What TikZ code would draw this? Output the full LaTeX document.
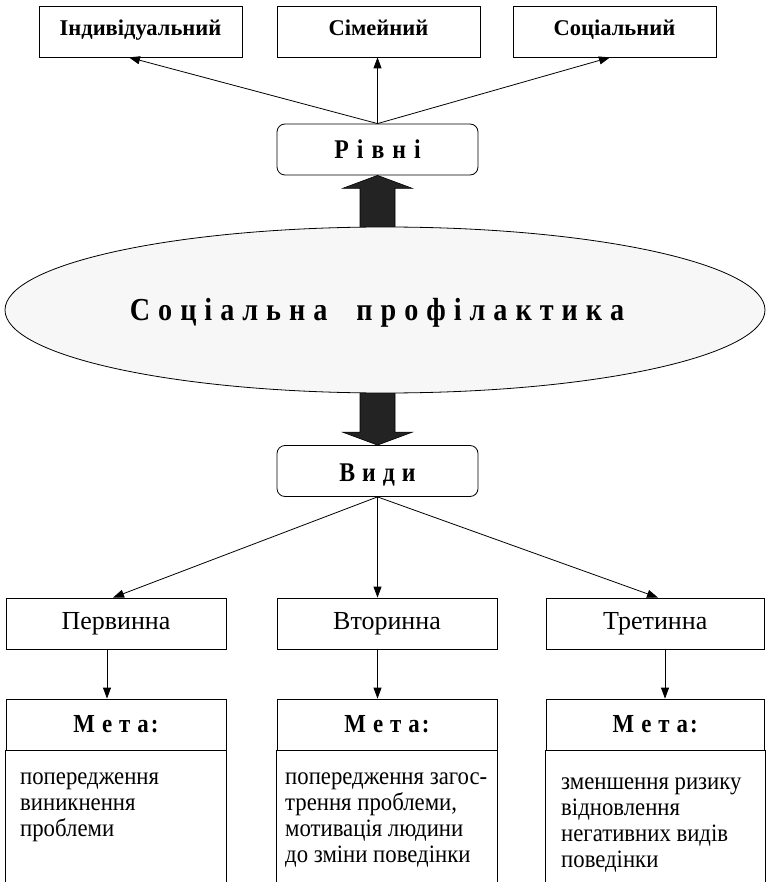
\documentclass[tikz,border=0pt]{standalone}
\usepackage{fontspec}
\setmainfont{Liberation Serif}
\newfontfamily\condA[FakeStretch=0.88]{Liberation Serif}
\newfontfamily\condB[FakeStretch=0.91]{Liberation Serif}
\usetikzlibrary{shapes.geometric,arrows.meta,calc}
\definecolor{ellfill}{HTML}{F7F7F7}
\definecolor{arrfill}{HTML}{232323}
\newlength\gapw
\newcommand{\gapx}{\hspace{\gapw}}
\begin{document}
\begin{tikzpicture}[x=1pt,y=-1pt,
  topbox/.style={draw, line width=0.8pt, minimum width=203pt, minimum height=51pt, inner sep=0pt,
    text height=15pt, text depth=6pt, font=\bfseries\fontsize{22.5}{26}\selectfont},
  rbox/.style={draw, line width=0.8pt, rounded corners=8pt, minimum width=201pt, minimum height=51pt, inner sep=0pt,
    text depth=0pt, font=\condA\bfseries\fontsize{27}{30}\selectfont\setlength\gapw{8pt}},
  midbox/.style={draw, line width=0.8pt, minimum width=220pt, minimum height=51pt, inner sep=0pt,
    font=\fontsize{26}{30}\selectfont},
  goalbox/.style={draw, line width=0.8pt, minimum width=220pt, minimum height=51pt, inner sep=0pt,
    text height=15pt, text depth=0pt, font=\condA\bfseries\fontsize{26}{28}\selectfont\setlength\gapw{7pt}},
  bodytext/.style={anchor=north west, inner sep=0pt, align=left,
    font=\condB\fontsize{25}{26}\selectfont},
  side/.style={line width=0.8pt},
  arr/.style={-{Triangle[length=11pt,width=8pt]}, line width=0.8pt},
  big/.style={draw=black, fill=arrfill, line width=0.6pt, line join=miter}
]
\useasboundingbox (0,0) rectangle (765,882);

% top level boxes
\node[topbox] (t1) at (140.5,31.5) {Індивідуальний};
\node[topbox] (t2) at (378.5,31.5) {Сімейний};
\node[topbox] (t3) at (614.5,31.5) {Соціальний};

% Рівні
\node[rbox, text height=18pt] (riv) at (377.5,149.5) {Р\gapx і\gapx в\gapx н\gapx і};

% ellipse
\node[ellipse, draw, fill=ellfill, line width=0.8pt, minimum width=760pt, minimum height=166pt, inner sep=0pt,
  text height=21pt, text depth=0pt,
  font=\condA\bfseries\fontsize{32}{36}\selectfont\setlength\gapw{8pt}] (ell) at (385,310)
  {С\gapx о\gapx ц\gapx і\gapx а\gapx л\gapx ь\gapx н\gapx а\hspace{29pt}п\gapx р\gapx о\gapx ф\gapx і\gapx л\gapx а\gapx к\gapx т\gapx и\gapx к\gapx а\kern16pt};

% Види
\node[rbox, text height=20pt, font=\condA\bfseries\fontsize{27}{30}\selectfont\setlength\gapw{7pt}] (vyd) at (377.5,471) {В\gapx и\gapx д\gapx и};

% middle boxes
\node[midbox] (m1) at (116,623.5) {Первинна};
\node[midbox] (m2) at (387,623.5) {Вторинна};
\node[midbox, minimum width=218.5pt] (m3) at (655.25,623.5) {Третинна};

% goal headers
\node[goalbox] (g1) at (116,724.5) {М\gapx е\gapx т\gapx а\hspace{2pt}:};
\node[goalbox] (g2) at (387,724.5) {М\gapx е\gapx т\gapx а\hspace{2pt}:};
\node[goalbox, minimum width=218.5pt] (g3) at (655.25,724.5) {М\gapx е\gapx т\gapx а\hspace{2pt}:};

% body sides
\draw[side] (g1.south west) -- ++(0,140);
\draw[side] (g1.south east) -- ++(0,140);
\draw[side] (g2.south west) -- ++(0,140);
\draw[side] (g2.south east) -- ++(0,140);
\draw[side] (g3.south west) -- ++(0,140);
\draw[side] (g3.south east) -- ++(0,140);

% body texts
\node[bodytext] (x1) at (20,766.5) {\strut попередження\\виникнення\\проблеми};
\node[bodytext] (x2) at (285,766.5) {\strut попередження загос-\\трення проблеми,\\мотивація людини\\до зміни поведінки};
\node[bodytext] (x3) at (561,771.5) {\strut зменшення ризику\\відновлення\\негативних видів\\поведінки};

% thin arrows top
\draw[arr] (riv.north) -- ($(t1.south)+(-11.5,0)$);
\draw[arr] (riv.north) -- (riv.north |- t2.south);
\draw[arr] (riv.north) -- ($(t3.south)+(-4.5,0)$);

% big arrows
\coordinate (ut) at (riv.south |- ell.north);
\coordinate (db) at (vyd.north |- ell.south);
\draw[big] ($(ut)+(-17.5,0)$) -- ($(riv.south)+(-17.5,13)$) -- ($(riv.south)+(-35,13)$)
  -- (riv.south) -- ($(riv.south)+(35,13)$) -- ($(riv.south)+(17.5,13)$) -- ($(ut)+(17.5,0)$) -- cycle;
\draw[big] ($(db)+(-17.5,0)$) -- ($(vyd.north)+(-17.5,-13)$) -- ($(vyd.north)+(-35,-13)$)
  -- (vyd.north) -- ($(vyd.north)+(35,-13)$) -- ($(vyd.north)+(17.5,-13)$) -- ($(db)+(17.5,0)$) -- cycle;

% thin arrows bottom
\draw[arr] (vyd.south) -- ($(m1.north)+(-3,0)$);
\draw[arr] (vyd.south) -- (vyd.south |- m2.north);
\draw[arr] (vyd.south) -- ($(m3.north)+(2.75,0)$);

\draw[arr] ($(m1.south)+(-9,0)$) -- ($(g1.north)+(-9,0)$);
\draw[arr] (vyd.south |- m2.south) -- (vyd.south |- g2.north);
\draw[arr] ($(m3.south)+(9.75,0)$) -- ($(g3.north)+(9.75,0)$);
\end{tikzpicture}
\end{document}
